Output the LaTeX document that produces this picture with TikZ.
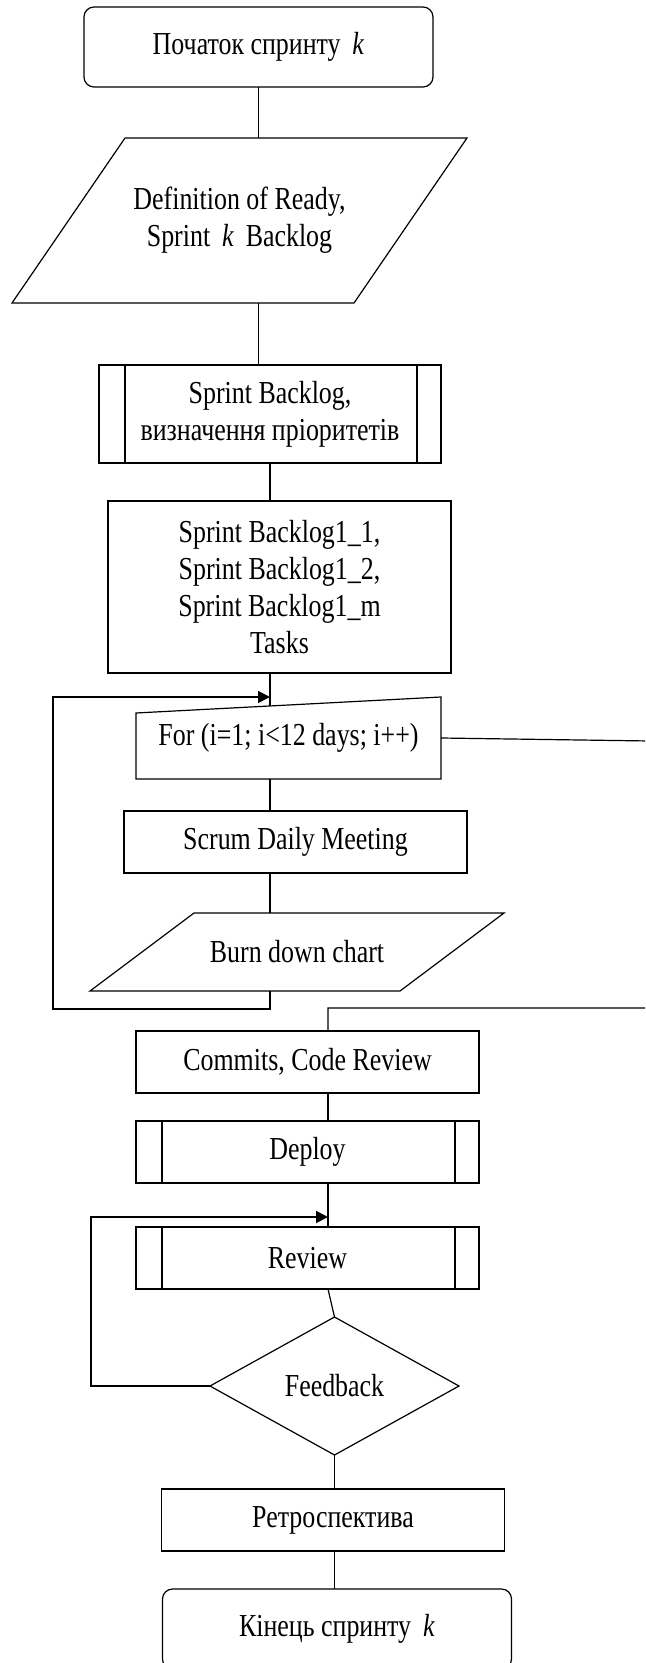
\documentclass[tikz,border=0pt]{standalone}
\usepackage{fontspec}
\setmainfont[FakeStretch=0.81]{Liberation Serif}
\usetikzlibrary{shapes.geometric,arrows.meta}

\begin{document}
\begin{tikzpicture}[x=0.5pt, y=-0.5pt, line width=0.6pt,
  font=\fontsize{16pt}{18.5pt}\selectfont,
  every node/.style={align=center, inner sep=0pt, outer sep=0pt},
  terminal/.style={draw, rounded corners=5pt, minimum width=174.5pt, minimum height=40pt},
  proc/.style={draw, rectangle, minimum width=171.5pt, minimum height=31pt},
  subproc/.style={proc, path picture={
    \draw ([xshift=13pt]path picture bounding box.north west) -- ([xshift=13pt]path picture bounding box.south west);
    \draw ([xshift=-12pt]path picture bounding box.north east) -- ([xshift=-12pt]path picture bounding box.south east);}},
  decision/.style={draw, diamond, minimum width=124.5pt, minimum height=69pt},
  back/.style={line width=0.9pt, -{Triangle[length=6pt,width=6pt]}}]
\useasboundingbox (0,0) rectangle (645,1663);
\clip (0,0) rectangle (645,1663);

\node[terminal] (start) at (258.5,47) {Початок спринту \,\textit{k}};
\node[minimum width=227.5pt, minimum height=82.5pt] (dor) at (239.5,220.5) {Definition of Ready,\\Sprint \,\textit{k} \,Backlog};
\draw ([xshift=56.5pt]dor.north west) -- (dor.north east) -- ([xshift=-56.5pt]dor.south east) -- (dor.south west) -- cycle;
\node[subproc, minimum width=171pt, minimum height=49pt] (prio) at (270,414) {Sprint Backlog,\\визначення пріоритетів};
\node[proc, minimum height=86pt] (tasks) at (279.5,587) {Sprint Backlog1\_1,\\Sprint Backlog1\_2,\\Sprint Backlog1\_m\\Tasks};
\node[minimum width=152.5pt, minimum height=41pt] (forloop) at (288.5,738) {For (i=1; i<12 days; i++)};
\draw ([yshift=-8pt]forloop.north west) -- (forloop.north east) -- (forloop.south east) -- (forloop.south west) -- cycle;
\node[proc] (daily) at (295.5,842) {Scrum Daily Meeting};
\node[minimum width=207pt, minimum height=39pt] (burn) at (297,952) {Burn down chart};
\draw ([xshift=52pt]burn.north west) -- (burn.north east) -- ([xshift=-52pt]burn.south east) -- (burn.south west) -- cycle;
\node[proc] (commits) at (307.5,1062) {Commits, Code Review};
\node[subproc] (deploy) at (307.5,1152) {Deploy};
\node[subproc] (review) at (307.5,1258) {Review};
\node[decision] (feedback) at (334.5,1386) {Feedback};
\node[proc] (retro) at (333,1520) {Ретроспектива};
\node[terminal] (finish) at (337,1629) {Кінець спринту \,\textit{k}};

% main line
\draw (start) -- (start |- dor.north);
\draw (dor.south -| start) -- (prio.north -| start);
\draw (prio) -- (prio |- tasks.north);
\draw (tasks.south -| prio) -- ([yshift=-4.5pt]forloop.north -| prio);
\coordinate (forin) at (prio |- forloop.north);
\draw (forloop.south -| prio) -- (daily.north -| prio);
\draw (daily.south -| prio) -- (burn.north -| prio);
\draw[back] (burn.south -| prio) |- (53,1009) |- (forin);

% leaving the loop
\coordinate (trunk) at ([xshift=10.25pt]commits.north);
\draw (forloop.east) -- (650,741) -- (650,1008) -| (trunk);
\draw (commits.south -| trunk) -- (deploy.north -| trunk);
\coordinate (revin) at ([yshift=5pt]review.north -| trunk);
\draw (deploy.south -| trunk) -- (review.north -| trunk);
\draw[back] (feedback.west) -| (91,1217) -- (revin);
\draw (review.south -| trunk) -- (feedback.north);
\draw (feedback) -- (feedback |- retro.north);
\draw (retro.south -| feedback) -- (finish.north -| feedback);
\end{tikzpicture}
\end{document}
